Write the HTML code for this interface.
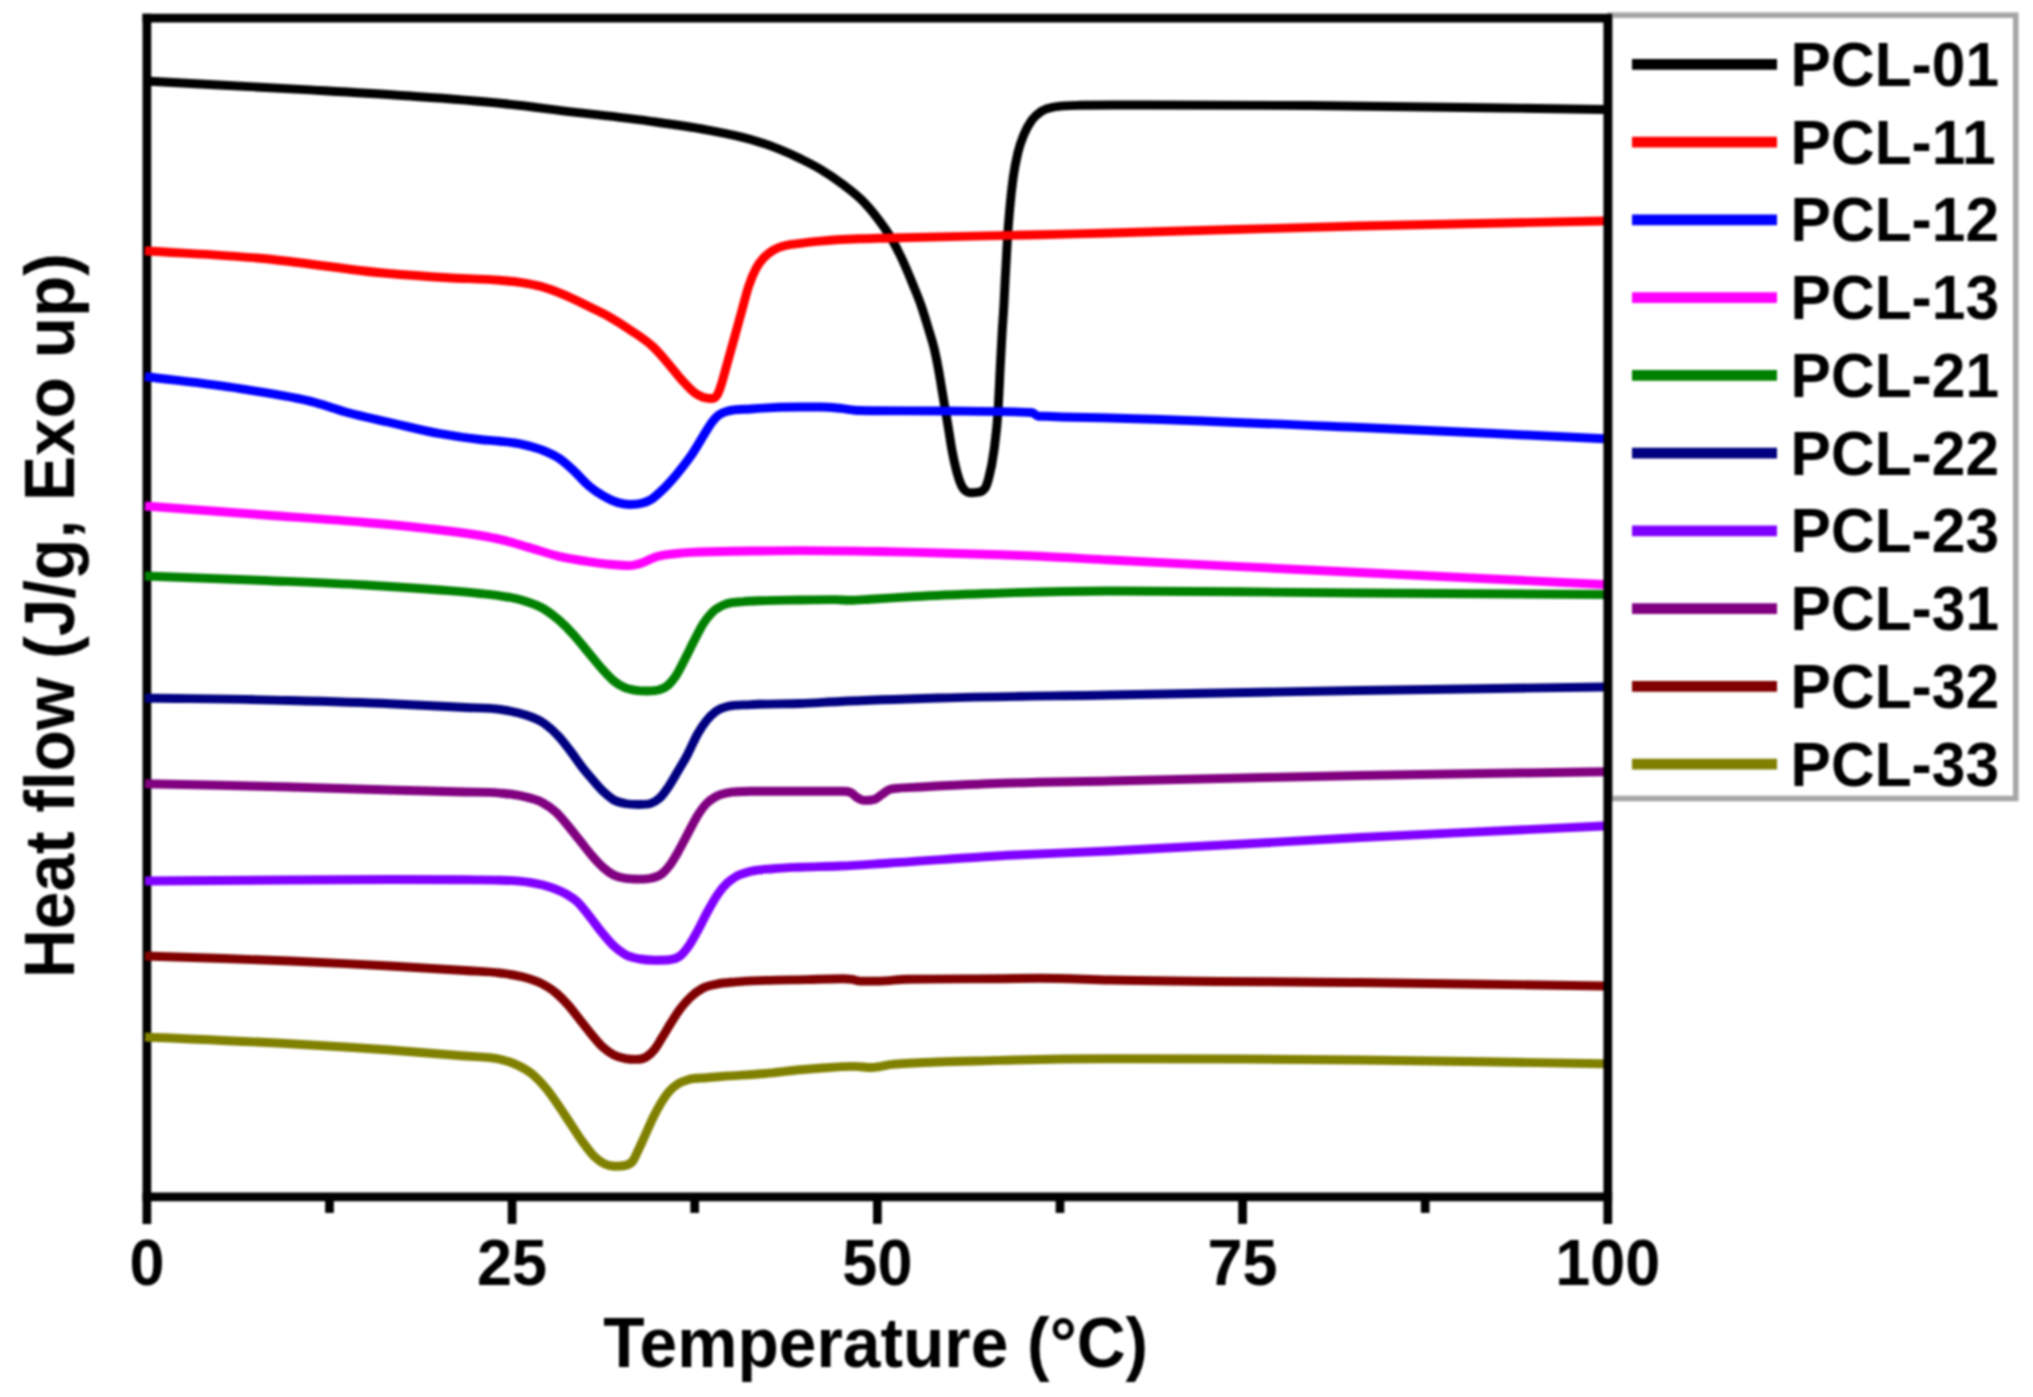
<!DOCTYPE html>
<html><head><meta charset="utf-8"><title>DSC heat flow</title>
<style>
html,body{margin:0;padding:0;background:#fff;overflow:hidden;}
svg{display:block;filter:blur(1px);}
text{font-family:"Liberation Sans",Arial,sans-serif;font-weight:bold;fill:#000;}
</style></head><body>
<svg width="2033" height="1397" viewBox="0 0 2033 1397">
<rect x="0" y="0" width="2033" height="1397" fill="#fff"/>
<rect x="1610" y="15.2" width="405.75" height="783.3" fill="#fff" stroke="#a6a6a6" stroke-width="5.6"/>
<g stroke="#000" stroke-width="8.7" fill="none" stroke-linecap="butt">
<path d="M146.9,1223.9 V13.75"/>
</g>
<g fill="none" stroke-width="8.9" stroke-linejoin="round" stroke-linecap="butt">
<path stroke="#000000" d="M145.0,81.0C196.7,83.8 248.3,86.4 300.0,89.4C332.7,91.3 365.3,93.0 398.0,95.3C432.0,97.7 466.0,99.8 500.0,103.3C524.6,105.8 549.2,109.2 573.8,112.1C598.4,115.0 623.0,117.5 647.6,120.9C667.3,123.6 686.9,126.1 706.6,129.8C721.3,132.6 736.1,135.1 750.8,139.4C760.5,142.3 770.3,145.5 780.0,149.5C786.7,152.2 793.3,155.2 800.0,158.5C806.7,161.8 813.3,165.0 820.0,169.0C827.7,173.6 835.3,178.7 843.0,184.5C849.3,189.3 855.6,193.8 861.9,200.2C867.3,205.6 872.6,211.9 878.0,219.0C882.2,224.5 886.3,230.0 890.5,237.0C894.3,243.5 898.2,250.8 902.0,259.0C905.5,266.5 909.0,274.9 912.5,283.5C915.4,290.7 918.4,297.5 921.3,306.0C923.7,313.0 926.1,321.0 928.5,329.0C930.4,335.4 932.4,340.7 934.3,349.0C935.7,355.1 937.2,362.2 938.6,370.0C939.8,376.7 941.1,384.7 942.3,392.0C943.4,398.3 944.4,404.7 945.5,411.0C946.6,417.3 947.6,423.5 948.7,430.0C949.8,436.7 950.9,444.4 952.0,450.4C953.7,459.7 955.4,466.9 957.1,473.0C958.6,478.5 960.2,482.9 961.7,486.0C963.1,488.9 964.6,490.2 966.0,491.3C967.6,492.5 969.1,492.7 970.7,492.7C972.8,492.7 974.9,492.7 977.0,492.3C978.7,492.0 980.3,492.2 982.0,491.0C983.2,490.2 984.3,489.8 985.5,487.5C986.5,485.5 987.5,482.7 988.5,479.0C990.3,472.3 992.2,464.8 994.0,450.4C995.3,439.9 996.7,432.4 998.0,411.3C998.9,397.6 999.7,376.2 1000.6,360.0C1001.1,351.3 1001.5,342.5 1002.0,334.5C1002.6,323.7 1003.3,316.5 1003.9,305.0C1004.3,297.1 1004.8,287.3 1005.2,279.0C1006.0,263.6 1006.8,248.7 1007.6,236.5C1008.3,225.4 1009.1,216.4 1009.8,208.1C1010.9,195.6 1012.0,186.5 1013.1,178.2C1014.7,166.4 1016.2,159.8 1017.8,153.0C1019.9,143.9 1022.0,139.3 1024.1,134.1C1026.7,127.6 1029.4,123.6 1032.0,119.9C1035.1,115.5 1038.3,113.4 1041.4,111.3C1045.6,108.5 1049.8,107.8 1054.0,107.0C1062.7,105.3 1071.3,105.4 1080.0,105.3C1102.7,105.0 1125.3,105.0 1148.0,105.0C1202.0,105.0 1256.0,105.1 1310.0,105.5C1408.0,106.2 1506.0,108.2 1604.0,109.5"/>
<path stroke="#ff0000" d="M145.0,250.7C184.3,253.3 223.7,254.9 263.0,258.5C304.0,262.3 345.0,269.7 386.0,273.3C406.6,275.1 427.1,276.5 447.7,277.7C465.1,278.7 482.6,278.8 500.0,280.3C506.7,280.9 513.3,281.3 520.0,282.3C527.4,283.4 534.7,284.7 542.1,286.8C549.5,288.9 556.9,291.8 564.3,294.9C571.7,298.0 579.0,301.7 586.4,305.3C593.8,308.9 601.1,312.1 608.5,316.3C615.9,320.5 623.3,325.2 630.7,330.3C638.1,335.3 645.4,339.6 652.8,346.6C657.7,351.3 662.7,357.1 667.6,362.8C672.5,368.4 677.4,375.2 682.3,380.5C686.2,384.8 690.2,389.3 694.1,392.3C697.1,394.5 700.0,396.3 703.0,397.3C705.5,398.1 707.9,398.5 710.4,398.5C711.9,398.5 713.5,398.5 715.0,397.6C716.0,397.0 717.0,395.5 718.0,393.5C718.9,391.7 719.8,389.0 720.7,386.4C722.7,380.7 724.6,372.8 726.6,365.8C729.1,357.1 731.5,348.1 734.0,339.2C736.4,330.4 738.9,321.4 741.3,312.6C743.8,303.7 746.2,293.5 748.7,286.1C751.2,278.7 753.6,273.1 756.1,268.4C758.6,263.7 761.0,260.8 763.5,258.0C766.9,254.1 770.4,251.9 773.8,249.9C777.7,247.6 781.7,246.6 785.6,245.5C790.5,244.2 795.5,244.0 800.4,243.3C806.9,242.4 813.5,241.7 820.0,241.1C833.3,239.8 846.7,239.3 860.0,238.8C870.0,238.4 880.0,238.3 890.0,238.0C940.0,236.7 990.0,235.9 1040.0,234.7C1063.3,234.2 1086.7,233.6 1110.0,233.0C1193.3,230.9 1276.7,228.0 1360.0,226.0C1441.3,224.0 1522.7,222.7 1604.0,221.0"/>
<path stroke="#0000ff" d="M145.0,376.5C176.7,380.6 208.3,383.6 240.0,388.7C265.0,392.7 290.0,395.7 315.0,402.5C325.8,405.4 336.7,409.5 347.5,412.5C361.7,416.4 375.8,419.2 390.0,422.5C406.7,426.3 423.3,430.7 440.0,433.7C453.3,436.1 466.7,438.1 480.0,439.5C486.7,440.2 493.3,440.6 500.0,441.3C507.4,442.1 514.7,442.7 522.1,444.3C529.5,445.9 536.9,447.8 544.3,450.9C549.2,453.0 554.1,455.0 559.0,458.3C563.9,461.6 568.9,466.2 573.8,470.8C578.7,475.3 583.6,481.4 588.5,485.6C593.4,489.8 598.4,493.1 603.3,495.9C608.2,498.7 613.1,501.2 618.0,502.6C621.9,503.7 625.9,504.5 629.8,504.5C633.8,504.5 637.7,504.4 641.7,503.3C645.1,502.4 648.6,501.1 652.0,498.9C655.4,496.7 658.9,493.3 662.3,490.0C667.2,485.3 672.2,479.7 677.1,473.8C682.0,467.9 686.9,461.9 691.8,454.6C695.7,448.8 699.7,441.7 703.6,435.4C706.1,431.4 708.5,427.0 711.0,423.6C713.5,420.2 715.9,417.3 718.4,415.3C721.3,412.9 724.3,412.2 727.2,411.3C735.1,409.0 742.9,409.6 750.8,409.0C767.2,407.7 783.6,407.0 800.0,407.0C806.7,407.0 813.3,407.0 820.0,407.0C826.7,407.0 833.3,407.7 840.0,408.3C846.7,408.9 853.3,410.4 860.0,410.5C886.7,411.0 913.3,410.7 940.0,411.0C969.3,411.3 998.7,411.0 1028.0,412.4C1029.5,412.5 1031.0,412.4 1032.5,412.7C1034.3,413.1 1036.0,415.7 1037.8,416.0C1039.5,416.3 1041.3,416.2 1043.0,416.3C1065.3,417.5 1087.7,417.4 1110.0,418.0C1193.3,420.3 1276.7,424.0 1360.0,427.5C1441.3,430.9 1522.7,435.0 1604.0,438.7"/>
<path stroke="#ff00ff" d="M145.0,506.0C185.0,509.0 225.0,512.0 265.0,515.0C298.3,517.5 331.7,519.5 365.0,522.5C390.0,524.7 415.0,526.9 440.0,530.0C453.3,531.7 466.7,533.2 480.0,535.5C486.7,536.7 493.3,537.9 500.0,539.4C509.8,541.6 519.7,544.8 529.5,547.6C539.3,550.4 549.2,554.1 559.0,556.4C568.8,558.7 578.7,560.2 588.5,561.6C598.3,563.0 608.2,564.3 618.0,565.0C621.9,565.3 625.9,565.6 629.8,565.6C633.8,565.6 637.7,564.4 641.7,563.1C646.1,561.7 650.5,558.7 654.9,557.2C662.3,554.7 669.7,554.4 677.1,553.5C691.8,551.6 706.6,551.9 721.3,551.5C734.2,551.1 747.1,551.1 760.0,551.0C773.3,550.8 786.7,550.6 800.0,550.6C826.0,550.6 852.0,551.0 878.0,551.5C898.7,551.9 919.3,552.4 940.0,553.0C960.0,553.5 980.0,554.1 1000.0,554.8C1013.3,555.3 1026.7,555.7 1040.0,556.3C1063.3,557.3 1086.7,558.8 1110.0,560.0C1193.3,564.4 1276.7,568.4 1360.0,572.5C1441.3,576.5 1522.7,580.5 1604.0,584.5"/>
<path stroke="#008000" d="M145.0,576.0C185.0,577.5 225.0,578.8 265.0,580.5C298.3,581.9 331.7,583.1 365.0,585.0C390.0,586.4 415.0,588.0 440.0,590.0C453.3,591.1 466.7,592.1 480.0,593.5C486.7,594.2 493.3,594.8 500.0,595.8C507.4,596.9 514.7,598.0 522.1,600.2C529.5,602.4 536.9,604.6 544.3,609.1C549.2,612.1 554.1,615.9 559.0,620.2C563.9,624.5 568.9,629.5 573.8,634.9C578.7,640.3 583.6,646.7 588.5,652.6C593.4,658.5 598.4,664.9 603.3,670.3C606.7,674.0 610.2,677.9 613.6,680.7C617.1,683.6 620.5,685.7 624.0,687.3C627.9,689.1 631.9,689.7 635.8,690.3C639.7,690.9 643.7,691.0 647.6,691.0C651.5,691.0 655.5,691.0 659.4,689.8C662.3,688.9 665.3,687.7 668.2,685.1C670.7,682.9 673.1,679.9 675.6,676.2C678.5,671.8 681.5,665.6 684.4,660.0C687.9,653.4 691.3,646.0 694.8,639.4C697.7,633.8 700.7,627.6 703.6,623.1C706.6,618.5 709.5,615.0 712.5,612.1C716.4,608.3 720.4,606.5 724.3,604.7C730.7,601.8 737.1,602.3 743.5,601.6C750.9,600.8 758.2,600.9 765.6,600.6C777.1,600.2 788.5,600.2 800.0,600.0C811.7,599.8 823.3,599.6 835.0,599.6C840.0,599.6 845.0,600.3 850.0,600.3C856.7,600.3 863.3,599.6 870.0,599.2C885.0,598.4 900.0,597.3 915.0,596.5C943.3,595.0 971.7,594.1 1000.0,593.1C1005.0,592.9 1010.0,592.8 1015.0,592.6C1046.7,591.6 1078.3,591.0 1110.0,591.0C1193.3,591.0 1276.7,592.4 1360.0,593.0C1441.3,593.6 1522.7,594.0 1604.0,594.5"/>
<path stroke="#000080" d="M145.0,698.0C193.3,698.8 241.7,699.2 290.0,700.5C323.3,701.4 356.7,702.3 390.0,703.7C415.0,704.8 440.0,706.2 465.0,707.5C476.7,708.1 488.3,707.7 500.0,709.4C507.4,710.5 514.7,711.6 522.1,713.9C529.5,716.3 536.9,718.2 544.3,723.5C549.2,727.0 554.1,731.3 559.0,736.7C562.9,741.0 566.9,746.3 570.8,751.5C574.7,756.7 578.7,762.7 582.6,767.7C585.6,771.5 588.5,774.9 591.5,778.4C595.4,783.0 599.4,787.9 603.3,791.6C606.7,794.8 610.2,797.8 613.6,799.8C617.5,802.0 621.5,802.7 625.4,803.5C629.8,804.4 634.3,804.5 638.7,804.5C642.6,804.5 646.6,804.5 650.5,803.5C653.5,802.7 656.4,801.0 659.4,798.3C662.3,795.6 665.3,791.5 668.2,787.2C671.2,782.9 674.1,777.5 677.1,772.5C680.5,766.7 684.0,761.2 687.4,754.8C690.8,748.3 694.3,739.8 697.7,733.8C700.7,728.6 703.6,724.2 706.6,720.5C709.5,716.8 712.5,713.9 715.4,711.7C719.3,708.7 723.3,707.5 727.2,706.5C735.1,704.6 742.9,705.1 750.8,704.6C767.2,703.6 783.6,704.1 800.0,703.5C813.3,703.0 826.7,702.1 840.0,701.5C873.3,700.0 906.7,699.0 940.0,698.0C996.7,696.4 1053.3,696.0 1110.0,695.0C1193.3,693.5 1276.7,691.8 1360.0,690.5C1441.3,689.2 1522.7,688.2 1604.0,687.0"/>
<path stroke="#8000ff" d="M145.0,881.0C193.3,880.7 241.7,880.3 290.0,880.0C323.3,879.8 356.7,879.5 390.0,879.5C415.0,879.5 440.0,879.6 465.0,879.8C476.7,879.9 488.3,879.8 500.0,880.2C509.8,880.5 519.7,880.8 529.5,882.4C536.9,883.6 544.2,884.9 551.6,887.6C556.5,889.4 561.5,891.3 566.4,894.2C569.9,896.3 573.5,898.2 577.0,901.5C580.8,905.0 584.7,910.3 588.5,915.0C592.8,920.4 597.2,926.7 601.5,932.0C605.5,936.9 609.6,942.0 613.6,945.8C617.5,949.5 621.5,952.4 625.4,954.6C630.3,957.3 635.3,958.1 640.2,959.0C645.1,959.9 650.0,960.2 654.9,960.2C659.8,960.2 664.8,960.2 669.7,959.8C673.1,959.5 676.6,958.8 680.0,956.1C683.0,953.7 685.9,950.0 688.9,945.7C692.1,941.1 695.3,935.1 698.5,929.2C701.7,923.4 704.8,916.5 708.0,910.8C711.3,904.8 714.7,898.7 718.0,894.0C721.1,889.6 724.1,886.0 727.2,883.1C730.2,880.3 733.1,878.3 736.1,876.5C741.0,873.6 745.9,872.6 750.8,871.3C758.2,869.4 765.6,869.4 773.0,868.7C782.0,867.9 791.0,867.6 800.0,867.2C813.3,866.6 826.7,866.6 840.0,866.0C856.7,865.3 873.3,864.0 890.0,863.0C931.7,860.5 973.3,857.1 1015.0,855.0C1046.7,853.4 1078.3,852.4 1110.0,851.0C1193.3,847.2 1276.7,841.7 1360.0,837.5C1441.3,833.4 1522.7,829.8 1604.0,826.0"/>
<path stroke="#800080" d="M145.0,783.7C193.3,784.8 241.7,785.7 290.0,787.0C323.3,787.9 356.7,789.1 390.0,790.0C415.0,790.7 440.0,791.3 465.0,792.0C476.7,792.3 488.3,792.0 500.0,793.1C507.4,793.8 514.7,794.4 522.1,796.1C528.5,797.6 534.9,798.6 541.3,802.0C546.2,804.6 551.2,807.7 556.1,812.3C560.0,816.0 564.0,820.9 567.9,825.6C571.8,830.3 575.8,835.4 579.7,840.3C583.6,845.2 587.6,850.5 591.5,855.1C595.4,859.7 599.4,864.1 603.3,867.6C606.7,870.6 610.2,873.2 613.6,875.0C617.5,877.0 621.5,877.8 625.4,878.4C629.8,879.1 634.3,879.1 638.7,879.1C643.1,879.1 647.6,879.1 652.0,878.0C655.4,877.1 658.9,876.3 662.3,873.5C664.8,871.5 667.2,868.7 669.7,865.4C672.2,862.1 674.6,857.8 677.1,853.6C680.5,847.7 684.0,840.8 687.4,834.4C690.8,828.0 694.3,820.7 697.7,815.3C700.7,810.6 703.6,806.6 706.6,803.5C709.5,800.4 712.5,798.5 715.4,796.8C719.3,794.5 723.3,793.6 727.2,792.8C735.1,791.2 742.9,791.2 750.8,791.2C767.2,791.2 783.6,791.2 800.0,791.2C814.2,791.2 828.4,791.2 842.6,791.2C845.2,791.2 847.9,791.2 850.5,792.3C852.6,793.2 854.7,796.1 856.8,797.4C858.5,798.5 860.3,799.4 862.0,799.9C863.4,800.3 864.9,800.4 866.3,800.4C868.0,800.4 869.8,800.3 871.5,800.0C872.9,799.7 874.3,799.4 875.7,798.8C878.1,797.8 880.4,795.5 882.8,793.9C885.2,792.3 887.5,790.3 889.9,789.4C892.3,788.5 894.6,788.6 897.0,788.3C902.5,787.6 908.0,787.7 913.5,787.4C942.3,785.9 971.2,784.3 1000.0,783.3C1036.7,782.0 1073.3,781.8 1110.0,781.0C1193.3,779.2 1276.7,777.1 1360.0,775.5C1441.3,774.0 1522.7,773.0 1604.0,771.7"/>
<path stroke="#800000" d="M145.0,956.0C193.3,957.7 241.7,958.9 290.0,961.0C323.3,962.5 356.7,964.1 390.0,966.0C415.0,967.4 440.0,968.8 465.0,970.5C476.7,971.3 488.3,971.5 500.0,973.0C507.4,974.0 514.7,974.8 522.1,976.7C528.5,978.4 534.9,980.1 541.3,983.4C546.2,986.0 551.2,988.8 556.1,993.0C560.0,996.3 564.0,1000.4 567.9,1004.8C571.8,1009.2 575.8,1014.6 579.7,1019.5C583.6,1024.4 587.6,1029.6 591.5,1034.3C595.4,1039.0 599.4,1044.0 603.3,1047.6C606.7,1050.7 610.2,1053.1 613.6,1054.9C617.5,1057.0 621.5,1057.9 625.4,1058.6C628.9,1059.3 632.3,1059.4 635.8,1059.4C639.2,1059.4 642.7,1059.2 646.1,1057.1C649.0,1055.3 652.0,1052.8 654.9,1049.0C657.4,1045.8 659.8,1041.2 662.3,1037.2C665.3,1032.4 668.2,1027.2 671.2,1022.5C674.1,1017.9 677.1,1013.1 680.0,1009.2C683.4,1004.6 686.9,1000.7 690.3,997.4C694.3,993.6 698.2,990.7 702.2,988.5C707.1,985.8 712.0,985.2 716.9,984.1C723.3,982.7 729.7,982.5 736.1,981.9C745.9,981.0 755.8,980.8 765.6,980.4C779.4,979.9 793.2,979.9 807.0,979.6C818.9,979.3 830.7,978.7 842.6,978.7C845.7,978.7 848.9,978.9 852.0,979.3C854.8,979.7 857.6,981.1 860.4,981.1C866.3,981.1 872.1,981.1 878.0,981.1C887.9,981.1 897.7,979.5 907.6,979.3C938.4,978.7 969.2,979.0 1000.0,978.7C1013.3,978.6 1026.7,978.3 1040.0,978.3C1063.3,978.3 1086.7,979.5 1110.0,980.0C1193.3,981.8 1276.7,981.5 1360.0,982.5C1441.3,983.5 1522.7,984.8 1604.0,986.0"/>
<path stroke="#808000" d="M145.0,1037.0C193.3,1039.2 241.7,1041.0 290.0,1043.7C323.3,1045.6 356.7,1047.6 390.0,1050.0C415.0,1051.8 440.0,1053.8 465.0,1056.0C476.7,1057.0 488.3,1056.3 500.0,1059.3C505.9,1060.8 511.8,1062.3 517.7,1065.2C522.9,1067.7 528.0,1070.4 533.2,1074.8C537.4,1078.4 541.6,1082.9 545.8,1088.0C550.2,1093.3 554.6,1099.8 559.0,1106.2C562.9,1111.9 566.9,1118.2 570.8,1124.1C574.7,1130.0 578.7,1136.4 582.6,1141.8C586.5,1147.2 590.5,1152.8 594.4,1156.6C597.9,1159.9 601.3,1162.4 604.8,1164.0C608.2,1165.6 611.7,1166.2 615.1,1166.2C618.5,1166.2 622.0,1166.2 625.4,1165.4C627.9,1164.8 630.3,1164.4 632.8,1161.0C634.8,1158.3 636.7,1153.3 638.7,1149.2C641.2,1144.1 643.6,1138.4 646.1,1133.0C648.6,1127.6 651.0,1121.7 653.5,1116.7C656.0,1111.7 658.5,1107.1 661.0,1103.0C663.7,1098.7 666.3,1094.8 669.0,1091.7C672.2,1088.0 675.3,1085.5 678.5,1083.5C681.9,1081.3 685.4,1080.5 688.8,1079.5C694.7,1077.8 700.7,1078.2 706.6,1077.7C711.5,1077.3 716.4,1076.9 721.3,1076.5C736.1,1075.3 750.8,1074.8 765.6,1073.5C777.1,1072.5 788.5,1070.8 800.0,1069.8C806.3,1069.2 812.7,1068.7 819.0,1068.3C830.8,1067.5 842.7,1066.4 854.5,1066.4C860.3,1066.4 866.2,1067.5 872.0,1067.5C878.0,1067.5 884.0,1065.5 890.0,1064.7C905.7,1062.7 921.3,1062.7 937.0,1062.0C958.0,1061.1 979.0,1061.0 1000.0,1060.4C1005.0,1060.3 1010.0,1060.1 1015.0,1060.0C1046.7,1059.2 1078.3,1058.7 1110.0,1058.7C1193.3,1058.7 1276.7,1059.1 1360.0,1060.0C1441.3,1060.8 1522.7,1062.5 1604.0,1063.7"/>
</g>
<g stroke="#000" stroke-width="8.7" fill="none" stroke-linecap="butt">
<path d="M142.55,18.1 H1607.8 V1223.9"/>
<path d="M142.55,1196.9 H1612.1499999999999"/>
<path d="M512.1,1196.9 V1223.9"/>
<path d="M877.4,1196.9 V1223.9"/>
<path d="M1242.6,1196.9 V1223.9"/>
<path d="M329.5,1196.9 V1212.9"/>
<path d="M694.7,1196.9 V1212.9"/>
<path d="M1060.0,1196.9 V1212.9"/>
<path d="M1425.2,1196.9 V1212.9"/>
</g>
<text transform="translate(146.9,1285) scale(1,1.041)" font-size="63" text-anchor="middle">0</text>
<text transform="translate(512.1,1285) scale(1,1.041)" font-size="63" text-anchor="middle">25</text>
<text transform="translate(877.4,1285) scale(1,1.041)" font-size="63" text-anchor="middle">50</text>
<text transform="translate(1242.6,1285) scale(1,1.041)" font-size="63" text-anchor="middle">75</text>
<text transform="translate(1607.8,1285) scale(1,1.041)" font-size="63" text-anchor="middle">100</text>
<text transform="translate(875.7,1366.6) scale(1,1.041)" font-size="67.7" text-anchor="middle">Temperature (°C)</text>
<text transform="translate(73.6,615.6) rotate(-90) scale(1,1.041)" font-size="67.6" text-anchor="middle">Heat flow (J/g, Exo up)</text>
<line x1="1632" y1="64.4" x2="1777" y2="64.4" stroke="#000000" stroke-width="10.8"/>
<text transform="translate(1790.6,85.8) scale(1,1.041)" font-size="60.5">PCL-01</text>
<line x1="1632" y1="142.2" x2="1777" y2="142.2" stroke="#ff0000" stroke-width="10.8"/>
<text transform="translate(1790.6,163.6) scale(1,1.041)" font-size="60.5">PCL-11</text>
<line x1="1632" y1="219.9" x2="1777" y2="219.9" stroke="#0000ff" stroke-width="10.8"/>
<text transform="translate(1790.6,241.3) scale(1,1.041)" font-size="60.5">PCL-12</text>
<line x1="1632" y1="297.6" x2="1777" y2="297.6" stroke="#ff00ff" stroke-width="10.8"/>
<text transform="translate(1790.6,319.0) scale(1,1.041)" font-size="60.5">PCL-13</text>
<line x1="1632" y1="375.4" x2="1777" y2="375.4" stroke="#008000" stroke-width="10.8"/>
<text transform="translate(1790.6,396.8) scale(1,1.041)" font-size="60.5">PCL-21</text>
<line x1="1632" y1="453.1" x2="1777" y2="453.1" stroke="#000080" stroke-width="10.8"/>
<text transform="translate(1790.6,474.5) scale(1,1.041)" font-size="60.5">PCL-22</text>
<line x1="1632" y1="530.9" x2="1777" y2="530.9" stroke="#8000ff" stroke-width="10.8"/>
<text transform="translate(1790.6,552.3) scale(1,1.041)" font-size="60.5">PCL-23</text>
<line x1="1632" y1="608.6" x2="1777" y2="608.6" stroke="#800080" stroke-width="10.8"/>
<text transform="translate(1790.6,630.0) scale(1,1.041)" font-size="60.5">PCL-31</text>
<line x1="1632" y1="686.4" x2="1777" y2="686.4" stroke="#800000" stroke-width="10.8"/>
<text transform="translate(1790.6,707.8) scale(1,1.041)" font-size="60.5">PCL-32</text>
<line x1="1632" y1="764.1" x2="1777" y2="764.1" stroke="#808000" stroke-width="10.8"/>
<text transform="translate(1790.6,785.5) scale(1,1.041)" font-size="60.5">PCL-33</text>
</svg></body></html>
